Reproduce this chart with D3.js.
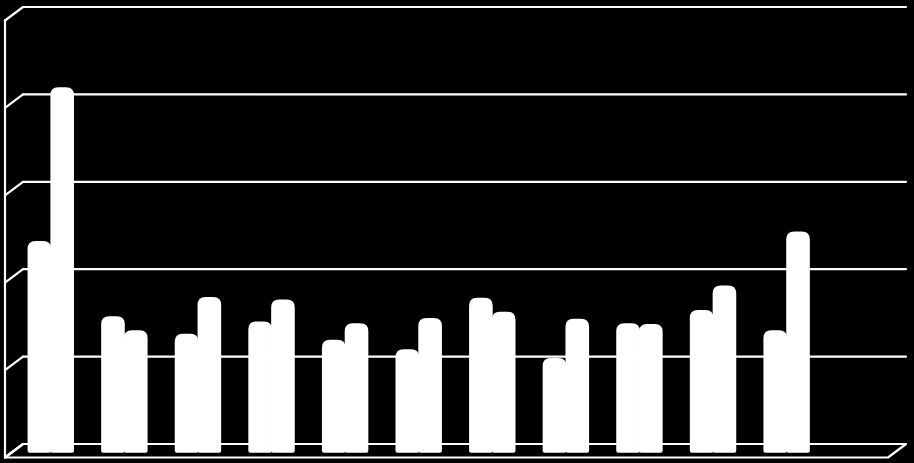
<!DOCTYPE html>
<html>
<head>
<meta charset="utf-8">
<script src="https://cdn.jsdelivr.net/npm/d3@7"></script>
<style>
html,body{margin:0;padding:0;background:#000;}
svg{display:block;}
</style>
</head>
<body>
<svg id="chart" width="914" height="463"></svg>
<script>
const categories = ["Jan","Feb","Mar","Apr","May","Jun","Jul","Aug","Sep","Oct","Nov","Dec"];
const series1 = [24.0, 15.4, 13.4, 14.8, 12.7, 11.6, 17.5, 10.6, 14.6, 16.1, 13.8, null];
const series2 = [41.6, 13.8, 17.6, 17.3, 14.6, 15.2, 15.9, 15.1, 14.5, 18.9, 25.1, null];
const tickValues = [0, 10, 20, 30, 40, 50];

const svg = d3.select("#chart");
const W = 914, H = 463;
svg.append("rect").attr("width", W).attr("height", H).attr("fill", "#000");

// 3D geometry: back wall and depth offset
const back = {left: 23, right: 906, top: 7, bottom: 444};
const depth = {dx: -18, dy: 13.5};

const yBack = d3.scaleLinear().domain([0, 50]).range([back.bottom, back.top]);
// bars sit at mid depth
const midDx = depth.dx / 2, midDy = depth.dy / 2;

const x0 = d3.scaleBand().domain(categories)
  .range([back.left + depth.dx - midDx, back.right + depth.dx - midDx])
  .paddingInner(0.38).paddingOuter(0.19);
const x1 = d3.scaleBand().domain(["s1","s2"]).range([0, x0.bandwidth()]).padding(0);

const g = svg.append("g");
const lineStyle = sel => sel.attr("stroke", "#fff").attr("stroke-width", 2.2).attr("fill", "none").attr("stroke-linecap", "round");

// Back wall gridlines (excluding floor)
g.selectAll(".grid").data(tickValues.filter(t => t > 0)).join("line")
  .attr("class", "grid")
  .attr("x1", back.left).attr("x2", back.right)
  .attr("y1", d => yBack(d)).attr("y2", d => yBack(d))
  .call(lineStyle);

// Left side wall gridline slants
g.selectAll(".slant").data(tickValues).join("line")
  .attr("class", "slant")
  .attr("x1", back.left + depth.dx).attr("y1", d => yBack(d) + depth.dy)
  .attr("x2", back.left).attr("y2", d => yBack(d))
  .call(lineStyle);

// Left wall front vertical edge
g.append("line")
  .attr("x1", back.left + depth.dx).attr("x2", back.left + depth.dx)
  .attr("y1", yBack(50) + depth.dy).attr("y2", yBack(0) + depth.dy)
  .call(lineStyle);

// Floor outline
const floor = [
  [back.left, yBack(0)], [back.right, yBack(0)],
  [back.right + depth.dx, yBack(0) + depth.dy], [back.left + depth.dx, yBack(0) + depth.dy]
];
g.append("path").attr("d", d3.line()(floor) + "Z").call(lineStyle).attr("stroke-linejoin", "round");

// Bars
function barPath(x, w, yTop, yBot) {
  const rt = Math.min(8, w / 2), rb = 2;
  return `M${x},${yBot - rb} L${x},${yTop + rt} Q${x},${yTop} ${x + rt},${yTop} L${x + w - rt},${yTop} Q${x + w},${yTop} ${x + w},${yTop + rt} L${x + w},${yBot - rb} Q${x + w},${yBot} ${x + w - rb},${yBot} L${x + rb},${yBot} Q${x},${yBot} ${x},${yBot - rb} Z`;
}
const data = [];
categories.forEach((c, i) => {
  if (series1[i] != null) data.push({c, s: "s1", v: series1[i]});
  if (series2[i] != null) data.push({c, s: "s2", v: series2[i]});
});
const yBar = v => yBack(v) + midDy;
g.selectAll(".bar").data(data).join("path")
  .attr("class", "bar")
  .attr("d", d => barPath(x0(d.c) + x1(d.s) - 0.4, x1.bandwidth() + 0.8, yBar(d.v), yBar(0) + 2))
  .attr("fill", "#fff");
</script>
</body>
</html>
